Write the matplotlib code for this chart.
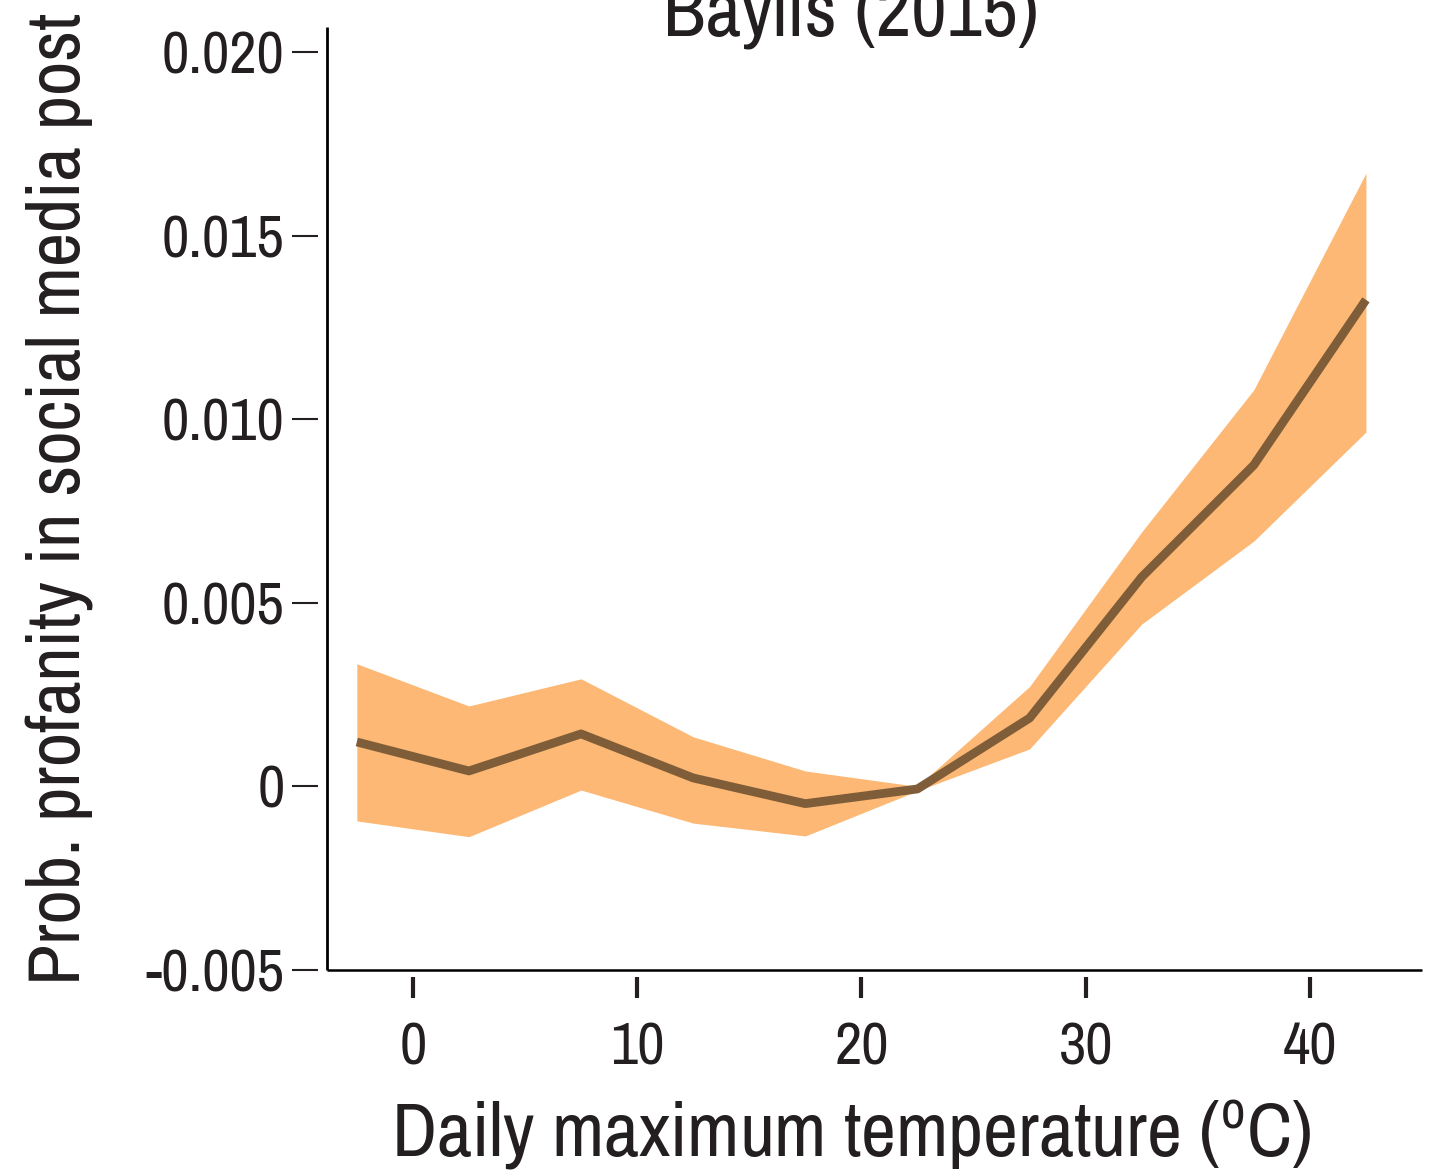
import matplotlib
matplotlib.use("Agg")
import matplotlib.pyplot as plt
from matplotlib.lines import Line2D

# ---- data ----
temp_c = [-2.5, 2.5, 7.5, 12.5, 17.5, 22.5, 27.5, 32.5, 37.5, 42.5]
estimate = [0.00121, 0.00042, 0.00143, 0.00023, -0.00047, -0.00007, 0.00186, 0.00570, 0.00875, 0.01325]
upper = [0.00334, 0.00219, 0.00293, 0.00135, 0.00042, 0.00000, 0.00272, 0.00693, 0.01080, 0.01670]
lower = [-0.00094, -0.00137, -0.00010, -0.00100, -0.00135, -0.00012, 0.00102, 0.00442, 0.00668, 0.00965]
xticks = [0, 10, 20, 30, 40]
yticks = [-0.005, 0, 0.005, 0.010, 0.015, 0.020]
ytick_labels = ["-0.005", "0", "0.005", "0.010", "0.015", "0.020"]
title = "Baylis (2015)"
xlabel = r"Daily maximum temperature ($^{\mathrm{o}}$C)"
ylabel = "Prob. profanity in social media post"

MAINFONT = "Archivo Narrow"
FONT = [MAINFONT, "Liberation Sans Narrow", "DejaVu Sans"]
plt.rcParams["font.family"] = FONT
plt.rcParams["mathtext.fontset"] = "custom"
plt.rcParams["mathtext.rm"] = MAINFONT
plt.rcParams["mathtext.it"] = MAINFONT
plt.rcParams["mathtext.bf"] = MAINFONT

TXT = "#231f20"
BAND = "#fcb874"
LINE = "#7f5d38"

fig = plt.figure(figsize=(14.35, 11.75), dpi=100)
ax = fig.add_axes([327 / 1435, 205 / 1175, 1095 / 1435, 943 / 1175])

ax.fill_between(temp_c, lower, upper, color=BAND, lw=0, zorder=1)
ax.plot(temp_c, estimate, color=LINE, lw=6.3, solid_capstyle="butt", zorder=2)

ax.set_xlim(-3.83, 45.0)
ax.set_ylim(-0.005, 0.02068)

ax.set_xticks(xticks)
ax.set_yticks(yticks)
ax.set_yticklabels(ytick_labels)

for s in ["top", "right"]:
    ax.spines[s].set_visible(False)
ax.spines["left"].set_position(("outward", 6.5))
ax.spines["bottom"].set_position(("outward", 5.0))
ax.spines["left"].set_visible(False)
ax.spines["bottom"].set_visible(False)

# axis lines at the data-area edges
ax.add_line(Line2D([0, 0], [0, 1], transform=ax.transAxes, color="black", lw=2.0, clip_on=False, solid_capstyle="butt"))
ax.add_line(Line2D([0, 1], [0, 0], transform=ax.transAxes, color="black", lw=1.8, clip_on=False, solid_capstyle="butt"))

ax.tick_params(axis="y", direction="out", length=19, width=1.5, pad=5, labelsize=43, colors=TXT)
ax.tick_params(axis="x", direction="out", length=15, width=3.0, pad=17, labelsize=43, colors=TXT)

ax.set_xlabel(xlabel, fontsize=55, color=TXT, va="baseline", ha="center")
ax.xaxis.set_label_coords((851 - 327) / 1095, (970 - 1157) / 943)
ax.set_ylabel(ylabel, fontsize=54, color=TXT, rotation=90, rotation_mode="anchor", va="baseline", ha="center")
ax.yaxis.set_label_coords((80 - 327) / 1095, (970 - 498.5) / 943)

fig.text(851 / 1435, 1 - 37 / 1175, title, fontsize=56, color=TXT, ha="center", va="baseline")

fig.savefig("out.png", dpi=100, facecolor="white")
